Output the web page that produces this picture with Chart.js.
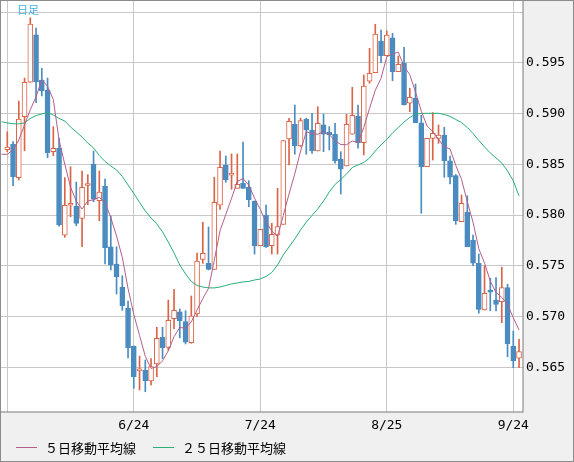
<!DOCTYPE html>
<html>
<head>
<meta charset="utf-8">
<script src="https://cdn.jsdelivr.net/npm/chart.js@4.4.1/dist/chart.umd.min.js"></script>
<style>
  html, body { margin: 0; padding: 0; background: #f0f0f0; }
  canvas { display: block; }
</style>
</head>
<body>
<canvas id="chart" width="574" height="462"></canvas>
<script>
// daily candles, index 0 = 5/23
const opens = [0.58645,0.58701,0.58369,0.58970,0.59310,0.59779,0.59332,0.59234,0.58625,0.58662,
  0.57801,0.58097,0.58090,0.57968,0.58292,0.58504,0.58142,0.58287,0.57688,0.57518,
  0.57291,0.57081,0.56706,0.56463,0.56472,0.56364,0.56532,0.56795,0.56696,0.56978,
  0.57047,0.56949,0.56742,0.57025,0.57564,0.57524,0.57465,0.58097,0.58494,0.58393,
  0.58264,0.58314,0.58274,0.58139,0.57698,0.58001,0.57698,0.57804,0.57909,0.58751,
  0.58895,0.58681,0.58945,0.58839,0.58632,0.58889,0.58817,0.58797,0.58550,0.58484,
  0.58797,0.58977,0.58714,0.59320,0.59404,0.59717,0.59572,0.59747,0.59414,0.59497,
  0.59103,0.59152,0.58911,0.58477,0.58757,0.58757,0.58790,0.58536,0.58389,0.57935,
  0.58028,0.57754,0.57525,0.57064,0.57261,0.57163,0.57146,0.57284,0.56709,0.56588];
const highs = [0.58822,0.58724,0.59125,0.59352,0.59947,0.59845,0.59448,0.59352,0.58872,0.58757,
  0.58369,0.58477,0.58326,0.58435,0.58398,0.58632,0.58435,0.58356,0.57991,0.57688,
  0.57402,0.57153,0.56709,0.56610,0.56571,0.56584,0.56893,0.56893,0.57162,0.57268,
  0.57074,0.57057,0.57202,0.57626,0.57929,0.57883,0.58373,0.58632,0.58583,0.58603,
  0.58603,0.58721,0.58339,0.58139,0.57860,0.58100,0.57919,0.58264,0.58734,0.58955,
  0.59086,0.58955,0.58955,0.59004,0.59069,0.58997,0.58872,0.58905,0.58625,0.58994,
  0.59260,0.59086,0.59382,0.59645,0.59882,0.59825,0.59816,0.59793,0.59569,0.59655,
  0.59250,0.59293,0.58984,0.58757,0.59010,0.58889,0.58866,0.58583,0.58400,0.58198,
  0.58191,0.57804,0.57616,0.57498,0.57377,0.57383,0.57485,0.57318,0.56857,0.56775];
const lows = [0.58625,0.58290,0.58346,0.58635,0.59310,0.59108,0.59175,0.58566,0.58586,0.57892,
  0.57781,0.57984,0.57895,0.57688,0.58103,0.58132,0.57945,0.57518,0.57459,0.57222,
  0.57061,0.56591,0.56292,0.56275,0.56258,0.56325,0.56406,0.56584,0.56667,0.56880,
  0.56789,0.56729,0.56736,0.56998,0.57524,0.57459,0.57465,0.58057,0.58323,0.58254,
  0.58264,0.58264,0.58083,0.57616,0.57698,0.57682,0.57616,0.57616,0.57909,0.58494,
  0.58600,0.58675,0.58600,0.58609,0.58632,0.58625,0.58642,0.58511,0.58208,0.58484,
  0.58797,0.58659,0.58593,0.59300,0.59404,0.59503,0.59572,0.59325,0.59414,0.59086,
  0.59020,0.58911,0.58018,0.58477,0.58543,0.58708,0.58373,0.58307,0.57909,0.57935,
  0.57688,0.57501,0.57032,0.57064,0.57057,0.57054,0.56939,0.56604,0.56495,0.56495];
const closes = [0.58672,0.58379,0.58948,0.59310,0.59885,0.59313,0.59227,0.58615,0.58659,0.57902,
  0.58097,0.58109,0.57919,0.58274,0.58297,0.58156,0.58228,0.57679,0.57508,0.57393,
  0.57107,0.56692,0.56406,0.56468,0.56367,0.56505,0.56785,0.56692,0.56963,0.57061,
  0.56959,0.56746,0.57005,0.57547,0.57623,0.57465,0.58126,0.58471,0.58346,0.58415,
  0.58304,0.58264,0.58152,0.57698,0.57860,0.57688,0.57811,0.57886,0.58734,0.58925,
  0.58681,0.58931,0.58839,0.58635,0.58905,0.58797,0.58790,0.58536,0.58452,0.58895,
  0.58984,0.58714,0.59273,0.59398,0.59786,0.59572,0.59776,0.59414,0.59487,0.59086,
  0.59162,0.58911,0.58477,0.58757,0.58807,0.58790,0.58536,0.58373,0.57945,0.58116,
  0.57688,0.57525,0.57071,0.57229,0.57239,0.57120,0.57284,0.56729,0.56561,0.56653];

// moving averages, first value belongs to index -1
const maStart = -1;
const ma5 = [0.58600,0.58600,0.58642,0.58740,0.58890,0.59039,0.59167,0.59337,0.59270,0.59140,0.58743,
  0.58500,0.58276,0.58137,0.58060,0.58139,0.58151,0.58175,0.58127,0.57974,0.57793,
  0.57583,0.57276,0.57021,0.56813,0.56608,0.56488,0.56506,0.56563,0.56662,0.56801,
  0.56892,0.56884,0.56947,0.57064,0.57176,0.57277,0.57553,0.57846,0.58006,0.58165,
  0.58332,0.58360,0.58296,0.58167,0.58056,0.57932,0.57842,0.57789,0.57996,0.58209,
  0.58407,0.58631,0.58822,0.58802,0.58798,0.58821,0.58793,0.58733,0.58696,0.58694,
  0.58731,0.58716,0.58864,0.59053,0.59231,0.59349,0.59561,0.59589,0.59607,0.59467,
  0.59385,0.59212,0.59025,0.58879,0.58823,0.58748,0.58673,0.58653,0.58490,0.58352,
  0.58132,0.57929,0.57669,0.57526,0.57350,0.57237,0.57189,0.57120,0.56987,0.56869];
const ma25 = [0.58920,0.58909,0.58901,0.58899,0.58909,0.58953,0.58982,0.58997,0.59012,0.58987,0.58953,
  0.58928,0.58869,0.58820,0.58770,0.58711,0.58662,0.58588,0.58529,0.58485,0.58445,
  0.58381,0.58297,0.58213,0.58125,0.58041,0.57972,0.57913,0.57834,0.57735,0.57627,
  0.57508,0.57420,0.57346,0.57306,0.57291,0.57282,0.57282,0.57291,0.57306,0.57321,
  0.57331,0.57341,0.57346,0.57360,0.57370,0.57395,0.57434,0.57508,0.57607,0.57686,
  0.57765,0.57853,0.57932,0.57996,0.58061,0.58139,0.58228,0.58302,0.58351,0.58406,
  0.58470,0.58494,0.58519,0.58563,0.58632,0.58692,0.58746,0.58810,0.58864,0.58918,
  0.58963,0.58997,0.59002,0.59004,0.59004,0.59004,0.58992,0.58973,0.58943,0.58913,
  0.58864,0.58805,0.58736,0.58672,0.58613,0.58563,0.58514,0.58435,0.58337,0.58189];

const dateTicks = [0, 22, 44, 66, 88];
const dateLabels = ["", "6/24", "7/24", "8/25", "9/24"];
const priceTicks = [0.565, 0.570, 0.575, 0.580, 0.585, 0.590, 0.595, 0.600];
const priceLabels = ["0.565", "0.570", "0.575", "0.580", "0.585", "0.590", "0.595", ""];

const upColor = "#dc6446";
const downColor = "#4a8bc0";
const ma5Color = "#b45f8c";
const ma25Color = "#28ae78";
const monoFont = "'DejaVu Sans Mono', monospace";
const jpFont = "'Noto Sans CJK JP', sans-serif";

const isUp = opens.map((o, i) => closes[i] >= o);

const frame = {
  id: "frame",
  beforeDraw(chart) {
    const { ctx, chartArea: a } = chart;
    ctx.save();
    ctx.fillStyle = "#f0f0f0";
    ctx.fillRect(0, 0, chart.width, chart.height);
    ctx.fillStyle = "#ffffff";
    ctx.fillRect(a.left, a.top, a.right - a.left, a.bottom - a.top);
    ctx.restore();
  },
  afterDraw(chart) {
    const { ctx, chartArea: a } = chart;
    ctx.save();
    ctx.strokeStyle = "#7a7a7a";
    ctx.lineWidth = 1;
    ctx.strokeRect(0.5, 0.5, a.right - 0.5, a.bottom - 0.5);
    ctx.strokeStyle = "#8c8c8c";
    ctx.strokeRect(0.5, 0.5, chart.width - 1, chart.height - 1);

    ctx.fillStyle = "#3fb0e6";
    ctx.font = "11px " + jpFont;
    ctx.textBaseline = "middle";
    ctx.fillText("日足", 17, 10);

    // legend
    const items = [
      { x: 16, color: ma5Color, text: "５日移動平均線" },
      { x: 153, color: ma25Color, text: "２５日移動平均線" },
    ];
    ctx.font = "13px " + jpFont;
    ctx.lineWidth = 1;
    items.forEach((it) => {
      ctx.strokeStyle = it.color;
      ctx.beginPath();
      ctx.moveTo(it.x, 447.5);
      ctx.lineTo(it.x + 21, 447.5);
      ctx.stroke();
      ctx.fillStyle = "#000000";
      ctx.fillText(it.text, it.x + 29, 448);
    });
    ctx.restore();
  },
};

const ctx = document.getElementById("chart").getContext("2d");
new Chart(ctx, {
  type: "bar",
  data: {
    datasets: [
      {
        label: "wick",
        data: lows.map((l, i) => ({ x: i, y: [l, highs[i]] })),
        backgroundColor: isUp.map((u) => (u ? upColor : downColor)),
        borderWidth: 0,
        barThickness: 1,
        grouped: false,
        order: 3,
      },
      {
        label: "body",
        data: opens.map((o, i) => ({ x: i, y: [o, closes[i]] })),
        backgroundColor: isUp.map((u) => (u ? "#ffffff" : downColor)),
        borderColor: isUp.map((u) => (u ? upColor : downColor)),
        borderWidth: 1,
        borderSkipped: false,
        barThickness: 5,
        minBarLength: 2,
        grouped: false,
        order: 2,
      },
      {
        type: "line",
        label: "25MA",
        data: ma25.map((v, i) => ({ x: i + maStart, y: v })),
        borderColor: ma25Color,
        borderWidth: 1,
        pointRadius: 0,
        order: 1,
      },
      {
        type: "line",
        label: "5MA",
        data: ma5.map((v, i) => ({ x: i + maStart, y: v })),
        borderColor: ma5Color,
        borderWidth: 1,
        pointRadius: 0,
        order: 0,
      },
    ],
  },
  options: {
    responsive: false,
    devicePixelRatio: 1,
    animation: false,
    events: [],
    layout: { padding: { top: 1, left: 1, right: 0, bottom: 0 } },
    plugins: {
      legend: { display: false },
      tooltip: { enabled: false },
    },
    scales: {
      x: {
        type: "linear",
        position: "bottom",
        min: -1.096,
        max: 89.69,
        offset: false,
        grid: { color: "#c8c8c8", drawTicks: false, offset: false },
        border: { display: false },
        afterBuildTicks: (scale) => {
          scale.ticks = dateTicks.map((v) => ({ value: v }));
        },
        afterFit: (scale) => {
          scale.height = 50;
          scale.paddingLeft = 0;
          scale.paddingRight = 0;
        },
        ticks: {
          autoSkip: false,
          maxRotation: 0,
          padding: 6,
          color: "#000000",
          font: { family: monoFont, size: 13 },
          callback: (v) => dateLabels[dateTicks.indexOf(v)],
        },
      },
      y: {
        type: "linear",
        position: "right",
        min: 0.560582,
        max: 0.601114,
        beginAtZero: false,
        grid: { color: "#c8c8c8", drawTicks: false },
        border: { display: false },
        afterBuildTicks: (scale) => {
          scale.ticks = priceTicks.map((v) => ({ value: v }));
        },
        afterFit: (scale) => {
          scale.width = 51;
          scale.paddingTop = 0;
          scale.paddingBottom = 0;
        },
        ticks: {
          padding: 3,
          color: "#000000",
          font: { family: monoFont, size: 13 },
          callback: (v) => priceLabels[priceTicks.indexOf(v)],
        },
      },
    },
  },
  plugins: [frame],
});
</script>
</body>
</html>
